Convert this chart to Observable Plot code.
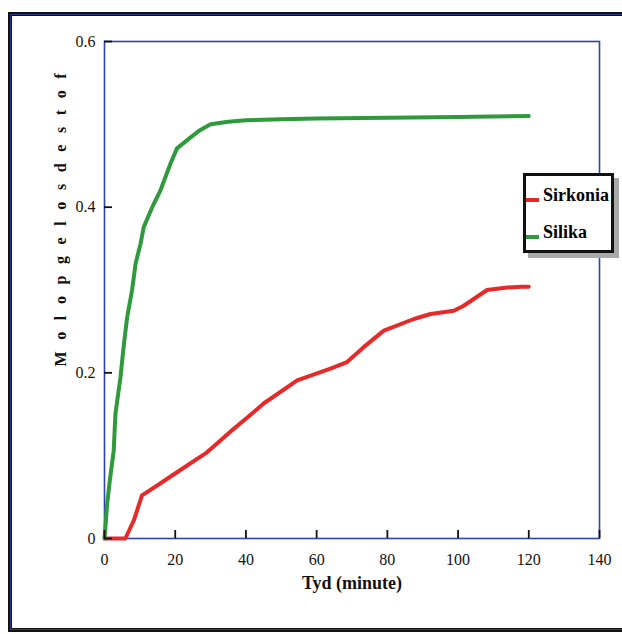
<!DOCTYPE html>
<html>
<head>
<meta charset="utf-8">
<script src="https://cdn.jsdelivr.net/npm/d3@7"></script>
<script src="https://cdn.jsdelivr.net/npm/@observablehq/plot@0.6"></script>
<style>
  html, body { margin: 0; padding: 0; background: #fff; overflow: hidden; }
  #wrap { position: relative; width: 622px; height: 634px; overflow: hidden; }
  #wrap svg { position: absolute; left: 0; top: 0; }
  #outer { position: absolute; left: 8px; top: 12px; width: 660px; height: 616px;
    border: 2px solid #111; box-shadow: inset 0 0 0 1px #2c3a9a, inset 0 0 0 2px #111; pointer-events: none; }
  #legend { position: absolute; left: 523px; top: 173px; width: 85px; height: 74px;
    border: 3px solid #111; background: #fff; box-shadow: 5px 5px 0 #a9a9a9;
    font-family: "Liberation Serif", serif; font-weight: bold; font-size: 18px; line-height: 18px; }
  #legend .sw { position: absolute; left: 0; width: 13px; height: 4px; }
  #legend .lb { position: absolute; left: 17px; white-space: nowrap; }
</style>
</head>
<body>
<div id="wrap"><div id="outer"></div></div>
<script>
// ---- data ----
const seriesNames = ["Sirkonia", "Silika"];
const seriesColors = ["#e62a2a", "#2f9a3c"];

const sirkoniaMinutes = [0, 3, 5.9, 8.3, 10.6, 14.9, 20.5, 29, 35.6, 40.4, 45, 54.5, 63.9, 68.6, 73.3, 79, 87.5, 92.2, 98.8, 101.6, 108.2, 113.9, 118.1, 120];
const sirkoniaValues  = [0, 0, 0, 0.022, 0.052, 0.064, 0.08, 0.104, 0.129, 0.146, 0.163, 0.191, 0.205, 0.213, 0.231, 0.251, 0.265, 0.271, 0.275, 0.281, 0.300, 0.303, 0.304, 0.304];

const silikaMinutes = [0, 0.75, 1.5, 2.6, 3.1, 4.5, 5.5, 6.4, 7.8, 8.8, 10.2, 11.1, 13.5, 15.8, 18.7, 20.5, 24, 27, 30, 35, 40, 50, 60, 80, 100, 120];
const silikaValues  = [0, 0.042, 0.07, 0.106, 0.151, 0.194, 0.235, 0.267, 0.3, 0.332, 0.356, 0.376, 0.4, 0.42, 0.453, 0.471, 0.483, 0.493, 0.5, 0.503, 0.505, 0.506, 0.507, 0.508, 0.509, 0.51];

const xTicks = [0, 20, 40, 60, 80, 100, 120, 140];
const yTicks = [0, 0.2, 0.4, 0.6];
const yTickLabels = ["0", "0.2", "0.4", "0.6"];
const xLabel = "Tyd (minute)";
const yLabel = "M o l o p g e l o s d e s t o f";

// ---- build table ----
const rows = [
  ...sirkoniaMinutes.map((m, i) => ({series: seriesNames[0], t: m, v: sirkoniaValues[i]})),
  ...silikaMinutes.map((m, i) => ({series: seriesNames[1], t: m, v: silikaValues[i]}))
];

const W = 622, H = 634, mL = 104, mR = 23, mT = 41, mB = 96;
const plotW = W - mL - mR, plotH = H - mT - mB, tickLen = 8;

const font = "Liberation Serif";
const chart = Plot.plot({
  width: W,
  height: H,
  marginLeft: mL,
  marginRight: mR,
  marginTop: mT,
  marginBottom: mB,
  style: {fontFamily: font, fontSize: "16px", color: "#111", background: "transparent"},
  x: {domain: [0, 140]},
  y: {domain: [0, 0.6]},
  color: {domain: seriesNames, range: seriesColors},
  marks: [
    Plot.frame({stroke: "#3142a8", strokeWidth: 1.6}),
    Plot.axisX(xTicks, {tickSize: 0, tickPadding: 15, fontSize: 16, label: null}),
    Plot.axisY(yTicks, {tickSize: 0, tickPadding: 9, fontSize: 16, label: null,
      tickFormat: d => yTickLabels[yTicks.indexOf(d)]}),
    Plot.line(rows, {x: "t", y: "v", z: "series", stroke: "series", strokeWidth: 4, curve: "linear"}),
    // inward tick marks
    Plot.tickX(xTicks, {x: d => d, insetTop: plotH - tickLen, stroke: "#111", strokeWidth: 1.8}),
    Plot.tickY(yTicks, {y: d => d, insetRight: plotW - tickLen, stroke: "#111", strokeWidth: 1.8}),
    Plot.text([xLabel], {frameAnchor: "bottom", dy: 50, fontSize: 18, fontWeight: "bold", fill: "#111"}),
    Plot.text([yLabel], {frameAnchor: "left", textAnchor: "middle", rotate: -90, dx: -44, dy: -72,
      fontSize: 16, fontWeight: "bold", fill: "#111"})
  ]
});

d3.select(chart).selectAll("text")
  .filter(function () { return this.textContent === yLabel; })
  .style("letter-spacing", "3.8px");

const wrap = document.getElementById("wrap");
wrap.insertBefore(chart, wrap.firstChild);

// ---- legend ----
const legend = document.createElement("div");
legend.id = "legend";
const swatchTops = [22, 59];
const labelTops = [10, 47];
seriesNames.forEach((name, i) => {
  const sw = document.createElement("div");
  sw.className = "sw";
  sw.style.top = swatchTops[i] + "px";
  sw.style.background = seriesColors[i];
  legend.appendChild(sw);
  const lb = document.createElement("div");
  lb.className = "lb";
  lb.style.top = labelTops[i] + "px";
  lb.textContent = name;
  legend.appendChild(lb);
});
wrap.appendChild(legend);
</script>
</body>
</html>
